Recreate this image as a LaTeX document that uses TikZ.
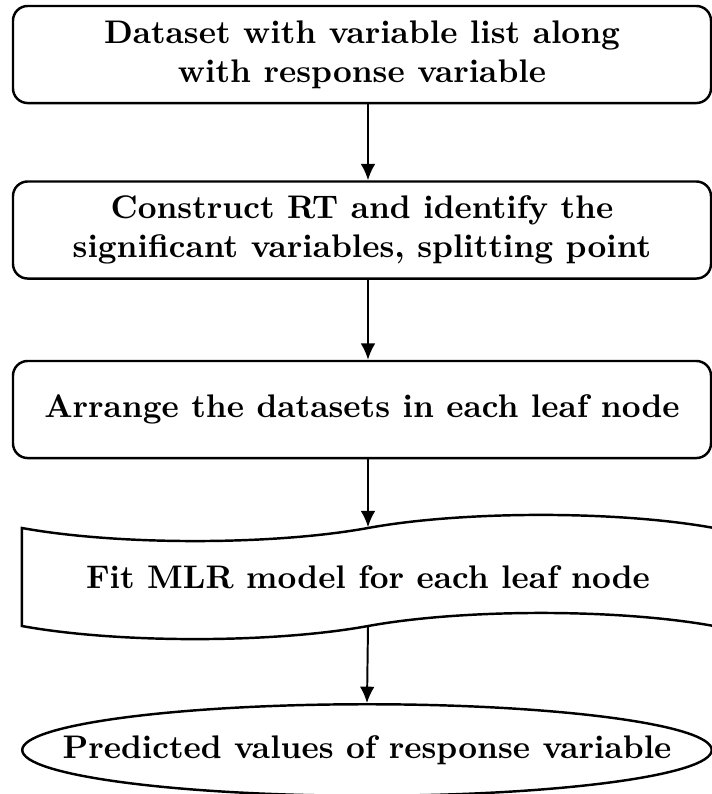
\documentclass[tikz,border=0pt]{standalone}
\usetikzlibrary{shapes.geometric,shapes.symbols,arrows.meta}
\begin{document}
\begin{tikzpicture}[x=0.306pt,y=-0.306pt,
  base/.style={draw,line width=0.75pt,font=\bfseries,align=center,inner sep=0pt},
  stepbox/.style={base,rounded corners=4.5pt,minimum width=213.6pt,minimum height=29.7pt},
  tapebox/.style={base,tape,tape bend height=8pt,minimum width=211.8pt,minimum height=38pt},
  endell/.style={base,ellipse,minimum width=211pt,minimum height=28pt},
  arr/.style={line width=0.6pt,-{Latex[length=5pt,width=4.5pt]}}]
\clip (0,0) rectangle (712,794);
\coordinate (ax) at (368,0);
\node[stepbox] (b1) at (362,54.5) {Dataset with variable list along\\with response variable};
\node[stepbox] (b2) at (362,230) {Construct RT and identify the\\significant variables, splitting point};
\node[stepbox] (b3) at (362,409.5) {Arrange the datasets in each leaf node};
\node[tapebox] (t) at (368,577) {Fit MLR model for each leaf node};
\node[endell] (e) at (367,750) {\makebox[60pt]{Predicted values of response variable}};
\draw[arr] (b1.south -| ax) -- (b2.north -| ax);
\draw[arr] (b2.south -| ax) -- (b3.north -| ax);
\draw[arr] (b3.south -| ax) -- (t.north);
\draw[arr] (t.south) -- (e.north);
\end{tikzpicture}
\end{document}
